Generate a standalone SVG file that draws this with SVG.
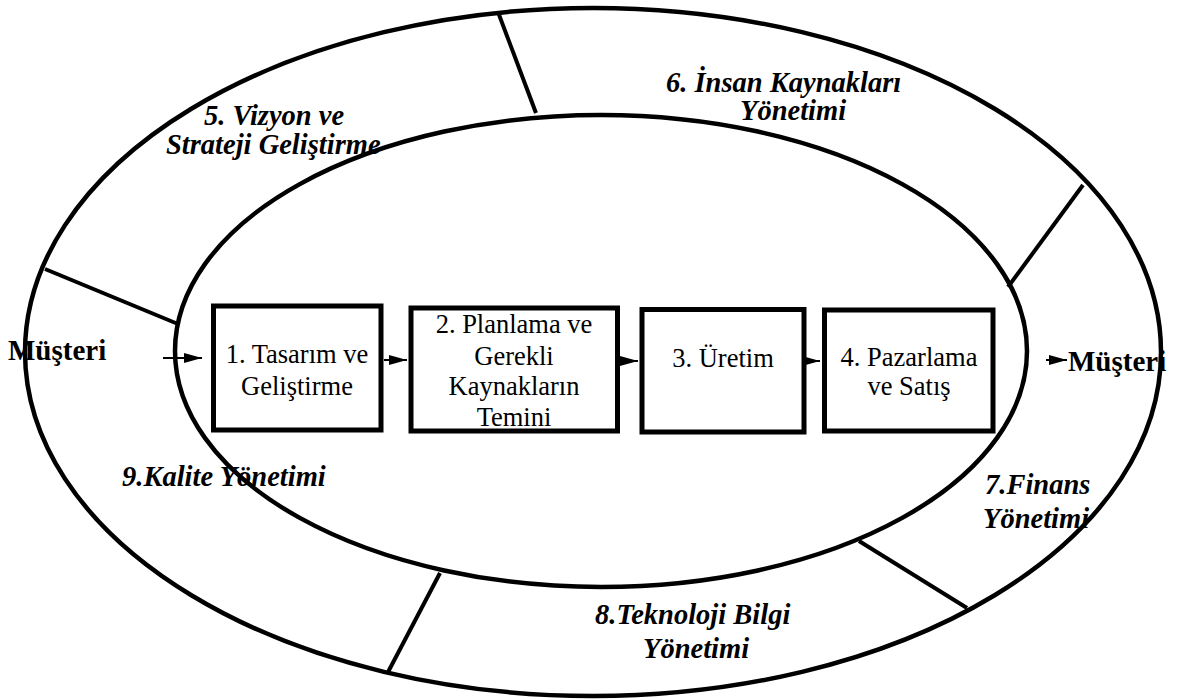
<svg xmlns="http://www.w3.org/2000/svg" width="1182" height="699" viewBox="0 0 1182 699">
<style>
.ring{fill:none;stroke:#000;stroke-width:4.5}
.div{stroke:#000;stroke-width:4;stroke-linecap:butt}
.box{fill:#fff;stroke:#000;stroke-width:5}
.arr{stroke:#000;stroke-width:2;fill:none}
.t{font-family:"Liberation Serif","Times New Roman",serif;font-size:26.5px;fill:#000;text-anchor:middle}
.lab{font-family:"Liberation Serif","Times New Roman",serif;font-size:28.5px;font-weight:bold;font-style:italic;fill:#000}
.cust{font-family:"Liberation Serif","Times New Roman",serif;font-size:29px;font-weight:bold;fill:#000}
</style>
<defs>
<marker id="ah" markerUnits="userSpaceOnUse" markerWidth="19" markerHeight="10" refX="18" refY="5" orient="auto">
<path d="M0,0 L18,5 L0,10 Z" fill="#000"/>
</marker>
</defs>
<rect width="1182" height="699" fill="#fff"/>
<g id="rings">
<ellipse class="ring" cx="593" cy="352" rx="568" ry="344"/>
<ellipse class="ring" cx="601" cy="351" rx="426" ry="236"/>
<line class="div" x1="45" y1="269" x2="178" y2="324"/>
<line class="div" x1="498" y1="12" x2="536" y2="113"/>
<line class="div" x1="1083" y1="185" x2="1008" y2="287"/>
<line class="div" x1="859" y1="541" x2="967" y2="608"/>
<line class="div" x1="440" y1="573" x2="387" y2="674"/>
</g>
<g id="labels">
<g id="n5"><text class="lab" x="204" y="125">5. Vizyon ve</text><text class="lab" x="166" y="154">Strateji Geliştirme</text></g>
<g id="n6"><text class="lab" x="666" y="92">6. İnsan Kaynakları</text><text class="lab" x="740" y="120">Yönetimi</text></g>
<g id="n7"><text class="lab" x="985" y="494">7.Finans</text><text class="lab" x="983" y="528">Yönetimi</text></g>
<g id="n8"><text class="lab" x="595" y="624">8.Teknoloji Bilgi</text><text class="lab" x="643" y="658">Yönetimi</text></g>
<g id="n9"><text class="lab" x="122" y="486">9.Kalite Yönetimi</text></g>
</g>
<g id="customer-in"><text class="cust" x="8" y="360">Müşteri</text></g>
<g id="customer-out"><text class="cust" x="1068" y="371">Müşteri</text></g>
<g id="box1"><rect class="box" x="213.5" y="306" width="167.5" height="124"/><text class="t" x="297" y="363">1. Tasarım ve</text><text class="t" x="297" y="395">Geliştirme</text></g>
<g id="box2"><rect class="box" x="411" y="308" width="206.5" height="123"/><text class="t" x="514" y="333">2. Planlama ve</text><text class="t" x="514" y="365">Gerekli</text><text class="t" x="514" y="395">Kaynakların</text><text class="t" x="514" y="426">Temini</text></g>
<g id="box3"><rect class="box" x="642" y="309.5" width="162" height="122.5"/><text class="t" x="723" y="367">3. Üretim</text></g>
<g id="box4"><rect class="box" x="824.5" y="310" width="168.5" height="121"/><text class="t" x="909" y="366">4. Pazarlama</text><text class="t" x="909" y="395">ve Satış</text></g>
<g id="connectors">
<line class="arr" x1="163" y1="358" x2="202" y2="358" marker-end="url(#ah)"/>
<line class="arr" x1="384" y1="360" x2="407" y2="360" marker-end="url(#ah)"/>
<line class="arr" x1="620" y1="361" x2="638" y2="361" marker-end="url(#ah)"/>
<line class="arr" x1="802" y1="361" x2="820" y2="361" marker-end="url(#ah)"/>
<line class="arr" x1="1046" y1="360" x2="1067" y2="360" marker-end="url(#ah)"/>
</g>
</svg>
